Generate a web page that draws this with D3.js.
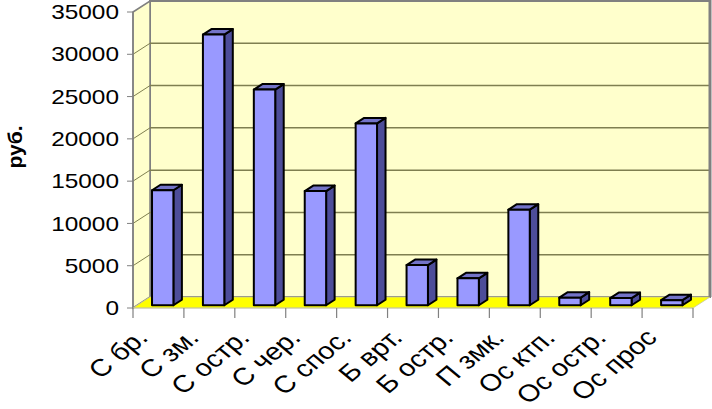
<!DOCTYPE html>
<html><head><meta charset="utf-8">
<script src="https://cdn.jsdelivr.net/npm/d3@7"></script>
<style>body{margin:0;background:#fff}svg{display:block}text{font-family:"Liberation Sans",Arial,sans-serif}</style>
</head><body>
<svg id="c" width="712" height="409"></svg>
<script>
const categories = ["С бр.","С зм.","С остр.","С чер.","С спос.","Б врт.","Б остр.","П змк.","Ос ктп.","Ос остр.","Ос прос"];
const values = [13600, 32000, 25500, 13500, 21500, 4750, 3180, 11300, 900, 850, 600];
const yTicks = [0,5000,10000,15000,20000,25000,30000,35000];
const yTitle = "руб.";

const svg = d3.select("#c");
const X0 = 133, X1 = 693, YB = 308, YT = 12;
const DX = 17, DY = -11;
const SX = 1.2; // horizontal stretch of text
const y = d3.scaleLinear().domain([0,35000]).range([YB,YT]);
const x = d3.scaleBand().domain(categories).range([X0,X1]).paddingInner(0.58).paddingOuter(0.29);
const step = x.step();
const P = (px,py,d)=>[px+d*DX, py+d*DY];
const poly = pts => pts.map(p=>p.join(",")).join(" ");

// back wall
svg.append("polygon").attr("points", poly([P(X0,YT,1),P(X1,YT,1),P(X1,YB,1),P(X0,YB,1)]))
  .attr("fill","#FFFFCC").attr("stroke","#808080").attr("stroke-width",2);
// left wall
svg.append("polygon").attr("points", poly([[X0,YT],P(X0,YT,1),P(X0,YB,1),[X0,YB]]))
  .attr("fill","#FFFFCC").attr("stroke","#808080").attr("stroke-width",1.5);
// floor
svg.append("polygon").attr("points", poly([[X0,YB],[X1,YB],P(X1,YB,1),P(X0,YB,1)]))
  .attr("fill","#FFFF00").attr("stroke","#c8c8a0").attr("stroke-width",0.8);
// gridlines
yTicks.filter(t=>t>0 && t<35000).forEach(t=>{
  const yy = y(t);
  svg.append("line").attr("x1",P(X0,yy,1)[0]).attr("y1",P(X0,yy,1)[1]).attr("x2",P(X1,yy,1)[0]).attr("y2",P(X1,yy,1)[1])
    .attr("stroke","#7f7f50").attr("stroke-width",1.5);
  svg.append("line").attr("x1",X0).attr("y1",yy).attr("x2",P(X0,yy,1)[0]).attr("y2",P(X0,yy,1)[1])
    .attr("stroke","#7f7f50").attr("stroke-width",1);
});
// right wall edge
svg.append("line").attr("x1",P(X1,YT,1)[0]).attr("y1",P(X1,YT,1)[1]-1).attr("x2",P(X1,YB,1)[0]).attr("y2",P(X1,YB,1)[1])
  .attr("stroke","#808080").attr("stroke-width",3);

// y axis
const ya = svg.append("g");
ya.append("line").attr("x1",X0).attr("x2",X0).attr("y1",YT).attr("y2",YB).attr("stroke","#808080").attr("stroke-width",1.5);
yTicks.forEach(t=>{
  ya.append("line").attr("x1",X0-6).attr("x2",X0).attr("y1",y(t)).attr("y2",y(t)).attr("stroke","#808080");
  ya.append("text").attr("transform",`translate(119,${y(t)}) scale(1.22,1)`).attr("text-anchor","end")
    .attr("dy","0.36em").attr("font-size",20).attr("fill","#000").text(d3.format("d")(t));
});
svg.append("text").attr("transform",`translate(22,147) rotate(-90)`).attr("text-anchor","middle")
  .attr("font-size",21).attr("font-weight","bold").text(yTitle);

// x axis ticks
svg.append("line").attr("x1",X0).attr("x2",X1).attr("y1",YB).attr("y2",YB).attr("stroke","#c0c0a0").attr("stroke-width",0.8);
d3.range(categories.length+1).forEach(i=>{
  const xx = X0 + i*step;
  svg.append("line").attr("x1",xx).attr("x2",xx).attr("y1",YB).attr("y2",YB+10).attr("stroke","#808080").attr("stroke-width",1.2);
});
categories.forEach(c=>{
  const cx = x(c)+x.bandwidth()/2;
  svg.append("text").attr("transform",`translate(${cx-9},339) scale(${SX},1) rotate(-45)`).attr("text-anchor","end")
    .attr("font-size",24).text(c);
});

// bars
const d0 = 0.25, d1 = 0.75;
categories.forEach((c,i)=>{
  const xa = x(c), xb = x(c)+x.bandwidth();
  const yt = y(values[i]), yb = y(0);
  const g = svg.append("g").attr("stroke","#000").attr("stroke-width",2).attr("stroke-linejoin","round");
  g.append("polygon").attr("points", poly([P(xb,yt,d0),P(xb,yt,d1),P(xb,yb,d1),P(xb,yb,d0)])).attr("fill","#4d4d99");
  g.append("polygon").attr("points", poly([P(xa,yt,d0),P(xa,yt,d1),P(xb,yt,d1),P(xb,yt,d0)])).attr("fill","#7373c8");
  g.append("polygon").attr("points", poly([P(xa,yt,d0),P(xb,yt,d0),P(xb,yb,d0),P(xa,yb,d0)])).attr("fill","#9999FF");
});
</script>
</body></html>
